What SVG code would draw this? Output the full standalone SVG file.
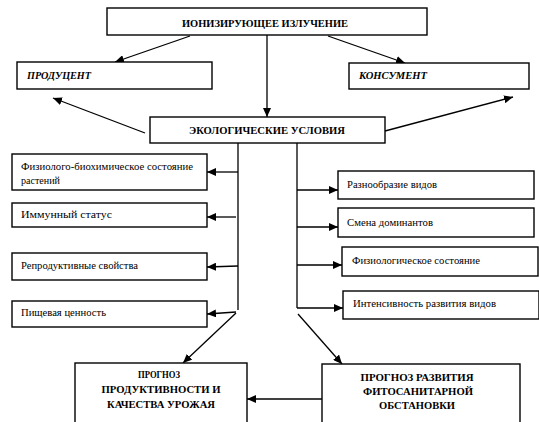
<svg xmlns="http://www.w3.org/2000/svg" width="539" height="422" viewBox="0 0 539 422" font-family="'Liberation Serif','Times New Roman','DejaVu Serif',serif">
<defs>
<marker id="ah" markerUnits="userSpaceOnUse" markerWidth="10" markerHeight="8" refX="9" refY="4" orient="auto">
<path d="M0,0 L9,4 L0,8 Z" fill="#000"/>
</marker>
<style>
.box{fill:#fff;stroke:#000;stroke-width:1.4}
.ln{fill:none;stroke:#000;stroke-width:1.3}
.ar{fill:none;stroke:#000;stroke-width:1.3;marker-end:url(#ah)}
text{font-family:'Liberation Serif','Times New Roman','DejaVu Serif',serif;fill:#000}
.h{font-weight:bold;font-size:11px}
.hi{font-weight:bold;font-style:italic;font-size:11px}
.t{font-size:10.5px}
</style>
</defs>
<rect width="539" height="422" fill="#fff"/>
<g id="connectors">
<path class="ar" d="M267,35 L267,117"/>
<path class="ar" d="M190,36 L115,62"/>
<path class="ar" d="M328,36 L405,63"/>
<path class="ar" d="M145,133 L53,98"/>
<path class="ar" d="M385,131 L513,97"/>
<path class="ln" d="M238,143 L238,310"/>
<path class="ln" d="M297,143 L297,308"/>
<path class="ar" d="M238,172 L207,172"/>
<path class="ar" d="M236,217 L207,217"/>
<path class="ar" d="M238,266 L207,267"/>
<path class="ar" d="M236,312 L207,314"/>
<path class="ar" d="M297,190 L338,190"/>
<path class="ar" d="M297,227 L338,227"/>
<path class="ar" d="M297,265 L342,265"/>
<path class="ar" d="M297,308 L343,308"/>
<path class="ar" d="M236,313 L183,363"/>
<path class="ar" d="M298,314 L342,364"/>
<path class="ar" d="M322,399 L247,399"/>
</g>
<g id="n-ion"><rect class="box" x="107" y="8" width="320" height="27"/><text class="h" x="265" y="27" text-anchor="middle" textLength="166" lengthAdjust="spacingAndGlyphs">ИОНИЗИРУЮЩЕЕ ИЗЛУЧЕНИЕ</text></g>
<g id="n-prod"><rect class="box" x="17" y="62" width="195" height="27"/><text class="hi" x="27" y="79" textLength="64" lengthAdjust="spacingAndGlyphs">ПРОДУЦЕНТ</text></g>
<g id="n-kons"><rect class="box" x="349" y="63" width="180" height="26"/><text class="hi" x="359" y="79" textLength="68" lengthAdjust="spacingAndGlyphs">КОНСУМЕНТ</text></g>
<g id="n-eco"><rect class="box" x="150" y="117" width="235" height="26"/><text class="h" x="267" y="134" text-anchor="middle" textLength="156" lengthAdjust="spacingAndGlyphs">ЭКОЛОГИЧЕСКИЕ УСЛОВИЯ</text></g>
<g id="n-l1"><rect class="box" x="12" y="154" width="195" height="36"/><text class="t" x="21" y="170" textLength="172" lengthAdjust="spacingAndGlyphs">Физиолого-биохимическое состояние</text><text class="t" x="21" y="184" textLength="39" lengthAdjust="spacingAndGlyphs">растений</text></g>
<g id="n-l2"><rect class="box" x="12" y="203" width="195" height="24"/><text class="t" x="21" y="218" textLength="91" lengthAdjust="spacingAndGlyphs">Иммунный статус</text></g>
<g id="n-l3"><rect class="box" x="12" y="253" width="195" height="27"/><text class="t" x="21" y="269" textLength="117" lengthAdjust="spacingAndGlyphs">Репродуктивные свойства</text></g>
<g id="n-l4"><rect class="box" x="12" y="301" width="195" height="26"/><text class="t" x="21" y="316" textLength="85" lengthAdjust="spacingAndGlyphs">Пищевая ценность</text></g>
<g id="n-r1"><rect class="box" x="338" y="171" width="196" height="28"/><text class="t" x="347" y="188" textLength="90" lengthAdjust="spacingAndGlyphs">Разнообразие видов</text></g>
<g id="n-r2"><rect class="box" x="338" y="208" width="196" height="29"/><text class="t" x="347" y="226" textLength="86" lengthAdjust="spacingAndGlyphs">Смена доминантов</text></g>
<g id="n-r3"><rect class="box" x="342" y="247" width="196" height="29"/><text class="t" x="352" y="264" textLength="128" lengthAdjust="spacingAndGlyphs">Физиологическое состояние</text></g>
<g id="n-r4"><rect class="box" x="343" y="291" width="196" height="28"/><text class="t" x="353" y="307" textLength="143" lengthAdjust="spacingAndGlyphs">Интенсивность развития видов</text></g>
<g id="n-b1"><rect class="box" x="75" y="363" width="172" height="70"/><text class="h" text-anchor="middle"><tspan x="159" y="378" textLength="42" lengthAdjust="spacingAndGlyphs">ПРОГНОЗ</tspan><tspan x="161" y="393" textLength="119" lengthAdjust="spacingAndGlyphs">ПРОДУКТИВНОСТИ И</tspan><tspan x="161" y="408" textLength="108" lengthAdjust="spacingAndGlyphs">КАЧЕСТВА УРОЖАЯ</tspan></text></g>
<g id="n-b2"><rect class="box" x="322" y="364" width="198" height="70"/><text class="h" text-anchor="middle"><tspan x="417" y="381" textLength="113" lengthAdjust="spacingAndGlyphs">ПРОГНОЗ РАЗВИТИЯ</tspan><tspan x="418" y="395" textLength="110" lengthAdjust="spacingAndGlyphs">ФИТОСАНИТАРНОЙ</tspan><tspan x="417" y="409" textLength="76" lengthAdjust="spacingAndGlyphs">ОБСТАНОВКИ</tspan></text></g>
</svg>
